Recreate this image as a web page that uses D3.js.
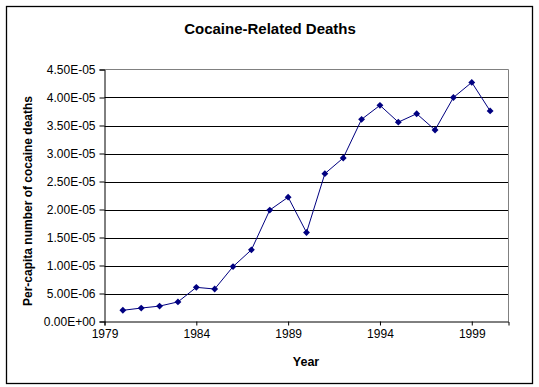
<!DOCTYPE html>
<html lang="en">
<head>
    <meta charset="UTF-8">
    <title>Cocaine-Related Deaths</title>
    <script src="https://cdnjs.cloudflare.com/ajax/libs/d3/7.8.5/d3.min.js"></script>
    <style>
        body { margin: 0; padding: 0; background: #fff; }
        svg { display: block; font-family: Arial, 'Liberation Sans', sans-serif; }
        .tick text { fill: #000; }
    </style>
</head>
<body>
    <div id="chart"></div>

    <script>
        // Dati
        const years = [1980, 1981, 1982, 1983, 1984, 1985, 1986, 1987, 1988, 1989, 1990,
                       1991, 1992, 1993, 1994, 1995, 1996, 1997, 1998, 1999, 2000];
        const deaths = [2.0e-6, 2.4e-6, 2.75e-6, 3.5e-6, 6.1e-6, 5.8e-6, 9.8e-6, 1.28e-5, 1.99e-5, 2.22e-5, 1.59e-5,
                        2.64e-5, 2.92e-5, 3.61e-5, 3.86e-5, 3.56e-5, 3.71e-5, 3.42e-5, 4.0e-5, 4.27e-5, 3.76e-5];
        const xTicks = [1979, 1984, 1989, 1994, 1999];
        const yTicks = [0, 5e-6, 1e-5, 1.5e-5, 2e-5, 2.5e-5, 3e-5, 3.5e-5, 4e-5, 4.5e-5];

        const width = 539, height = 387;
        const margin = { top: 69.5, right: 30.5, bottom: 65.5, left: 104.5 };

        const svg = d3.select("#chart").append("svg")
            .attr("width", width)
            .attr("height", height);

        // bordo esterno
        svg.append("rect")
            .attr("x", 6.5).attr("y", 6.5)
            .attr("width", 526).attr("height", 377)
            .attr("fill", "none")
            .attr("stroke", "#000")
            .attr("stroke-width", 1.3);

        const x = d3.scaleLinear()
            .domain([1979, 2001])
            .range([margin.left, width - margin.right]);

        const y = d3.scaleLinear()
            .domain([0, 4.5e-5])
            .range([height - margin.bottom, margin.top]);

        // formato tipo Excel: 4.50E-05
        function sci(v) {
            if (v === 0) return "0.00E+00";
            const [m, e] = v.toExponential(2).split("e");
            const n = Math.abs(+e);
            return m + "E" + (+e < 0 ? "-" : "+") + (n < 10 ? "0" + n : n);
        }

        // griglia
        svg.append("g")
            .selectAll("line")
            .data(yTicks.slice(1, -1))
            .enter().append("line")
            .attr("x1", margin.left).attr("x2", width - margin.right)
            .attr("y1", d => Math.round(y(d)) + 0.5).attr("y2", d => Math.round(y(d)) + 0.5)
            .attr("stroke", "#000")
            .attr("stroke-width", 1);

        // bordo area del grafico (grigio)
        svg.append("path")
            .attr("d", `M${margin.left},${margin.top}H${width - margin.right}V${height - margin.bottom}`)
            .attr("fill", "none")
            .attr("stroke", "#808080")
            .attr("stroke-width", 1);

        const xAxis = svg.append("g")
            .attr("transform", `translate(0,${height - margin.bottom})`)
            .call(d3.axisBottom(x).tickValues(xTicks).tickFormat(d3.format("d")).tickSize(4).tickPadding(4));

        const yAxis = svg.append("g")
            .attr("transform", `translate(${margin.left},0)`)
            .call(d3.axisLeft(y).tickValues(yTicks).tickFormat(sci).tickSize(5).tickPadding(4));

        [xAxis, yAxis].forEach(a => {
            a.selectAll("path, line").attr("stroke", "#000");
            a.selectAll("text").style("font-size", "12px");
        });

        // linea + marcatori
        const line = d3.line()
            .x((d, i) => x(years[i]))
            .y(d => y(d));

        svg.append("path")
            .datum(deaths)
            .attr("d", line)
            .attr("fill", "none")
            .attr("stroke", "#000080")
            .attr("stroke-width", 1);

        svg.append("g")
            .selectAll("path")
            .data(deaths)
            .enter().append("path")
            .attr("d", d3.symbol().type(d3.symbolDiamond2).size(30))
            .attr("transform", (d, i) => `translate(${x(years[i])},${y(d)})`)
            .attr("fill", "#000080");

        // titoli
        svg.append("text")
            .attr("x", 270).attr("y", 34)
            .attr("text-anchor", "middle")
            .style("font-size", "15px")
            .style("font-weight", "bold")
            .text("Cocaine-Related Deaths");

        svg.append("text")
            .attr("x", 306).attr("y", 366)
            .attr("text-anchor", "middle")
            .style("font-size", "12.5px")
            .style("font-weight", "bold")
            .text("Year");

        svg.append("text")
            .attr("transform", "translate(32,201) rotate(-90)")
            .attr("text-anchor", "middle")
            .style("font-size", "12px")
            .style("font-weight", "bold")
            .text("Per-capita number of cocaine deaths");
    </script>
</body>
</html>
